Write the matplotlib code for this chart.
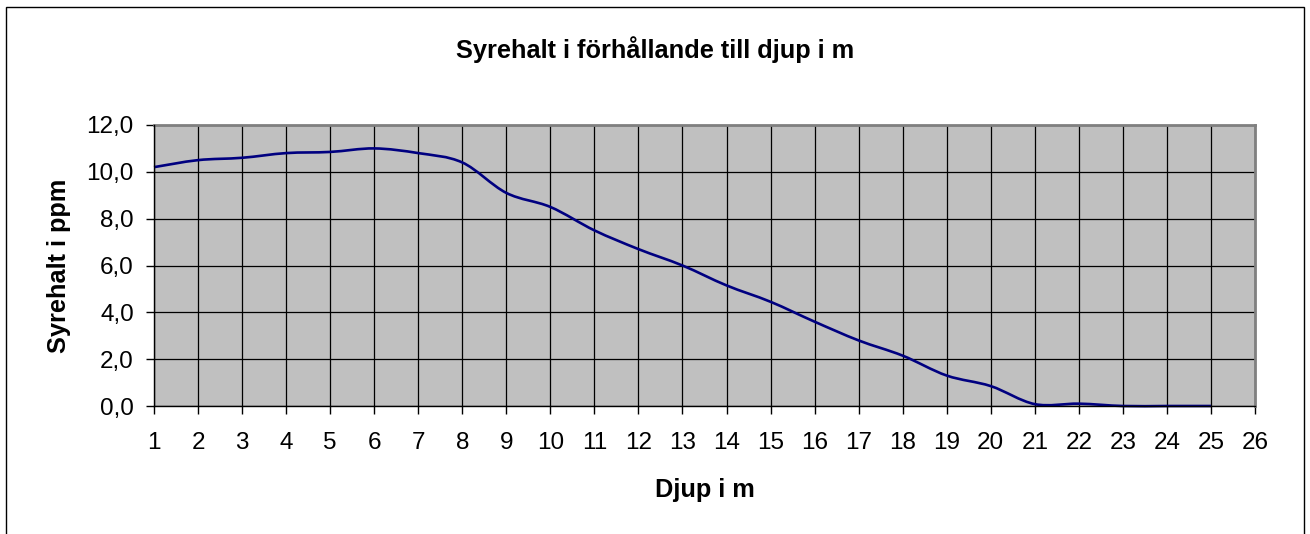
import numpy as np
import matplotlib
matplotlib.use("Agg")
import matplotlib.pyplot as plt
from matplotlib.path import Path
from matplotlib.patches import PathPatch, Rectangle
from matplotlib.ticker import FuncFormatter

# Data
depth = [1, 2, 3, 4, 5, 6, 7, 8, 9, 10, 11, 12, 13, 14, 15, 16, 17, 18, 19, 20, 21, 22, 23, 24, 25]
oxygen = [10.2, 10.5, 10.6, 10.8, 10.85, 11.0, 10.8, 10.4, 9.1, 8.5, 7.5, 6.7, 6.0, 5.15, 4.45, 3.6, 2.8, 2.15, 1.3, 0.85, 0.08, 0.1, 0.0, 0.0, 0.0]
x_ticks = list(range(1, 27))
y_ticks = [0, 2, 4, 6, 8, 10, 12]

title = "Syrehalt i förhållande till djup i m"
xlabel = "Djup i m"
ylabel = "Syrehalt i ppm"

W, H = 1310, 534
plt.rcParams['font.family'] = ['Liberation Sans', 'DejaVu Sans']
fig = plt.figure(figsize=(W / 100, H / 100), dpi=100)

# outer chart frame
fig.patches.append(Rectangle((6 / W, -0.05), (1304 - 6) / W, 1.05 - 7 / H,
                             transform=fig.transFigure, fill=False,
                             edgecolor='black', linewidth=1.0))

L, R, T, B = 154, 1255, 125, 406
ax = fig.add_axes([L / W, 1 - B / H, (R - L) / W, (B - T) / H])
ax.set_facecolor('#C0C0C0')
ax.set_xlim(1, 26)
ax.set_ylim(0, 12)
ax.set_xticks(x_ticks)
ax.set_yticks(y_ticks)
ax.yaxis.set_major_formatter(FuncFormatter(lambda v, p: f"{v:.1f}".replace('.', ',')))
ax.grid(True, color='black', linewidth=0.9)
ax.set_axisbelow(True)

for s in ['top', 'right']:
    ax.spines[s].set_color('#808080')
    ax.spines[s].set_linewidth(2.0)
for s in ['left', 'bottom']:
    ax.spines[s].set_color('black')
    ax.spines[s].set_linewidth(1.0)
ax.spines['left'].set_zorder(5)
ax.spines['bottom'].set_zorder(5)

ax.tick_params(axis='both', direction='out', length=6, width=1.0, color='black',
               labelsize=17.5, labelcolor='black')
ax.tick_params(axis='x', pad=12.5)
ax.tick_params(axis='y', pad=8.5)

# smoothed line (Excel-style Catmull-Rom Bezier through the data points)
xs = np.array(depth, dtype=float)
ys = np.array(oxygen, dtype=float)
n = len(xs)
verts = [(xs[0], ys[0])]
codes = [Path.MOVETO]
for i in range(n - 1):
    p0 = np.array([xs[max(i - 1, 0)], ys[max(i - 1, 0)]])
    p1 = np.array([xs[i], ys[i]])
    p2 = np.array([xs[i + 1], ys[i + 1]])
    p3 = np.array([xs[min(i + 2, n - 1)], ys[min(i + 2, n - 1)]])
    c1 = p1 + (p2 - p0) / 6.0
    c2 = p2 - (p3 - p1) / 6.0
    verts += [tuple(c1), tuple(c2), tuple(p2)]
    codes += [Path.CURVE4] * 3
ax.add_patch(PathPatch(Path(verts, codes), facecolor='none', edgecolor='#000080',
                       linewidth=1.9, zorder=4, clip_on=False))

fig.text(655 / W, 1 - 58 / H, title, ha='center', va='baseline',
         fontsize=18.3, fontweight='bold')
fig.text(705 / W, 1 - 497 / H, xlabel, ha='center', va='baseline',
         fontsize=18.3, fontweight='bold')
fig.text(59 / W, 1 - 266 / H, ylabel, ha='center', va='center', rotation=90,
         fontsize=18.3, fontweight='bold')

fig.savefig('out.png', dpi=100)
